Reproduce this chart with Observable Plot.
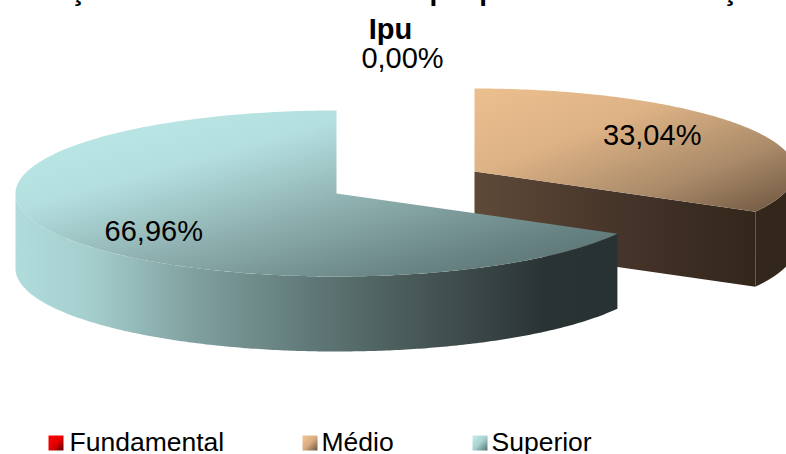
<!DOCTYPE html>
<html lang="pt">
<head>
<meta charset="utf-8">
<script src="https://cdn.jsdelivr.net/npm/d3@7"></script>
<script src="https://cdn.jsdelivr.net/npm/@observablehq/plot@0.6"></script>
<style>
html,body{margin:0;padding:0;background:#fff;overflow:hidden}
svg{display:block}
</style>
</head>
<body>
<div id="chart"></div>
<script>
const categories = ["Fundamental", "Médio", "Superior"];
const shares = [0.00, 33.04, 66.96];
const shareLabels = ["0,00%", "33,04%", "66,96%"];
const titleLines = ["Relação de docentes no município por nível de formação", "Ipu"];

const W = 786, H = 454;
const FONT = "'Liberation Sans', Arial, sans-serif";
const rx = 321, ry = 83, depth = 75;
const centers = [{x: 405, y: 193}, {x: 474, y: 171}, {x: 336, y: 193}];
const legendX = [48, 302, 472];
const legendTextX = [69, 321, 491];
const labelNudge = [null, {x: -2, y: 14}, {x: -3, y: 7}];

const arcs = d3.pie().sort(null).startAngle(0).endAngle(2 * Math.PI)(shares);
const pt = (i, a, r = 1, down = 0) => ({
  x: centers[i].x + r * rx * Math.sin(a),
  y: centers[i].y - r * ry * Math.cos(a) + down
});
const arcPts = (i, a0, a1, down = 0) =>
  d3.range(0, 241).map(k => pt(i, a0 + (a1 - a0) * k / 240, 1, down));

// Médio
const mA = arcs[1];
const medioTop = [centers[1], ...arcPts(1, mA.startAngle, mA.endAngle)];
const medioCut = [pt(1, 0, 0), pt(1, mA.endAngle), pt(1, mA.endAngle, 1, depth), pt(1, 0, 0, depth)];
const medioRim = [...arcPts(1, Math.PI / 2, mA.endAngle),
                  ...arcPts(1, mA.endAngle, Math.PI / 2, depth)];
// Superior
const sA = arcs[2];
const superiorTop = [centers[2], ...arcPts(2, sA.startAngle, sA.endAngle)];
const superiorRim = [...arcPts(2, sA.startAngle, 1.5 * Math.PI),
                     ...arcPts(2, 1.5 * Math.PI, sA.startAngle, depth)];

const grad = (id, stops, x2 = 1, y2 = 1) => ({id, stops, x2, y2});
const gradients = [
  grad("gFund", [[0, "#ff0000"], [0.55, "#e00000"], [1, "#5a0000"]]),
  grad("gMedioTop", [[0, "#ecbf8f"], [0.35, "#ddb285"], [0.7, "#a98a69"], [1, "#6d543e"]]),
  grad("gMedioSide", [[0, "#5f4a38"], [0.5, "#46352a"], [1, "#33261b"]], 1, 0),
  grad("gSupTop", [[0, "#bfeaea"], [0.3, "#b4dfdf"], [0.55, "#8fb0b0"], [0.8, "#6a8585"], [1, "#546c6d"]]),
  grad("gSupSide", [[0, "#b0dcdc"], [0.12, "#a5cfce"], [0.3, "#7f9f9e"], [0.5, "#5e7776"],
                    [0.68, "#465654"], [0.88, "#2a3334"], [1, "#293233"]], 1, 0),
  grad("gLegM", [[0, "#f0c595"], [0.5, "#d9ad80"], [1, "#6d543e"]]),
  grad("gLegS", [[0, "#c4efef"], [0.5, "#a8d2d2"], [1, "#566f70"]])
];
const defs = () => {
  const d = d3.create("svg:defs");
  for (const g of gradients) {
    const lg = d.append("linearGradient").attr("id", g.id)
      .attr("x1", 0).attr("y1", 0).attr("x2", g.x2).attr("y2", g.y2);
    for (const [o, c] of g.stops) lg.append("stop").attr("offset", o).attr("stop-color", c);
  }
  return d.node();
};

const shape = (pts, fill) => Plot.line(pts, {x: "x", y: "y", fill, stroke: "none", curve: "linear"});
const label = (x, y, text, extra = {}) =>
  Plot.text([text], {x: () => x, y: () => y, text: d => d, fontSize: 29, fill: "#000", lineAnchor: "bottom", ...extra});

const labelPos = i => {
  const mid = (arcs[i].startAngle + arcs[i].endAngle) / 2;
  return {x: pt(i, mid, 0.65).x + labelNudge[i].x, y: pt(i, mid, 0.95).y + labelNudge[i].y};
};

const fills = ["url(#gFund)", "url(#gLegM)", "url(#gLegS)"];

const chart = Plot.plot({
  width: W, height: H,
  margin: 0,
  x: {domain: [0, W], range: [0, W], axis: null},
  y: {domain: [0, H], range: [0, H], axis: null},
  style: {fontFamily: FONT, background: "#fff"},
  marks: [
    defs,
    shape(medioCut, "url(#gMedioSide)"),
    shape(medioRim, "#33261b"),
    shape(medioTop, "url(#gMedioTop)"),
    shape(superiorRim, "url(#gSupSide)"),
    shape(superiorTop, "url(#gSupTop)"),
    label(390, -1, titleLines[0], {fontWeight: "bold", fontSize: 28}),
    label(390, 38, titleLines[1], {fontWeight: "bold"}),
    label(centers[0].x - 3, 67, shareLabels[0]),
    ...[1, 2].map(i => label(labelPos(i).x, labelPos(i).y, shareLabels[i])),
    ...categories.map((c, i) =>
      Plot.dot([c], {x: () => legendX[i] + 7.5, y: () => 442.5, symbol: "square", r: 8.46, fill: fills[i], stroke: "none"})),
    ...categories.map((c, i) =>
      Plot.text([c], {x: () => legendTextX[i], y: () => 450, text: d => d, fontSize: 26.5, fill: "#000", textAnchor: "start", lineAnchor: "bottom"}))
  ]
});
document.getElementById("chart").append(chart);
</script>
</body>
</html>
